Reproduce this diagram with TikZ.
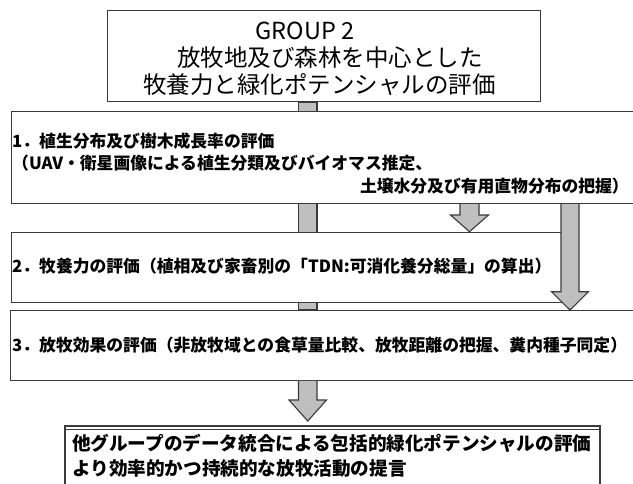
\documentclass[tikz,border=0pt]{standalone}
\usepackage{fontspec}
\setmainfont{Noto Sans CJK JP}
\usetikzlibrary{backgrounds}
\definecolor{lineC}{HTML}{3A3A3A}
\definecolor{barC}{HTML}{BFBFBF}
\begin{document}
\begin{tikzpicture}[x=1pt,y=-1pt,
  box/.style={draw=lineC, line width=1.3pt, fill=white, inner sep=0pt, anchor=north west},
  garrow/.style={draw=lineC, line width=1.1pt, fill=barC, line join=miter},
  ttxt/.style={inner sep=0pt, font=\fontsize{23.5}{26}\selectfont},
  txt/.style={inner sep=0pt, anchor=west, font=\fontsize{16.8}{20}\selectfont\bfseries},
  ftxt/.style={inner sep=0pt, anchor=west, font=\fontsize{18.6}{21}\selectfont\bfseries},
]
\useasboundingbox (0,0) rectangle (633,483);
\clip (0,0) rectangle (633,483);
% boxes
\node[box, minimum width=433.3pt, minimum height=90.7pt] (top) at (106.7,10) {};
\node[box, minimum width=640pt, minimum height=92pt] (b1) at (10.5,110.7) {};
\node[box, minimum width=550.5pt, minimum height=70pt] (b2) at (10.5,231.7) {};
\node[box, minimum width=640pt, minimum height=69.5pt] (b3) at (9.5,310) {};
\node[box, minimum width=535pt, minimum height=70pt] (fin) at (64.3,425.3) {};
\draw[lineC, line width=1pt] ([yshift=-4pt]fin.north west) -- ([yshift=-4pt]fin.north east);
% main vertical bar behind boxes
\begin{scope}[on background layer]
  \filldraw[garrow] (298.5,0 |- top.south) rectangle (317,0 |- b3.north);
\end{scope}
% middle arrow b1 -> b2
\draw[garrow] (460,0 |- b1.south) -- (460,215) -- (450.5,215) -- (469.5,0 |- b2.north)
  -- (488.5,215) -- (479,215) -- (479,0 |- b1.south);
% right arrow b1 -> b3
\draw[garrow] (561,0 |- b1.south) -- (561,291.7) -- (551.5,291.7) -- (570,0 |- b3.north)
  -- (588.5,291.7) -- (579,291.7) -- (579,0 |- b1.south);
% bottom arrow b3 -> fin
\draw[garrow] (298.5,0 |- b3.south) -- (298.5,400) -- (289,400) -- (307.75,421)
  -- (326.5,400) -- (317,400) -- (317,0 |- b3.south);
% texts
\node[ttxt] (t1) at (305,31) {GROUP 2};
\node[ttxt] (t2) at (330,58) {放牧地及び森林を中心とした};
\node[ttxt] (t3) at (319.5,85) {牧養力と緑化ポテンシャルの評価};
\node[txt] (l1) at (12,141) {1．植生分布及び樹木成長率の評価};
\node[txt] (l2) at (12,163) {（UAV・衛星画像による植生分類及びバイオマス推定、};
\node[txt, anchor=east] (l3) at (629,186) {土壌水分及び有用直物分布の把握）};
\node[txt] (l4) at (12,266) {2．牧養力の評価（植相及び家畜別の「TDN:可消化養分総量」の算出）};
\node[txt] (l5) at (12,345) {3．放牧効果の評価（非放牧域との食草量比較、放牧距離の把握、糞内種子同定）};
\node[ftxt] (f1) at (72,443) {他グループのデータ統合による包括的緑化ポテンシャルの評価};
\node[ftxt] (f2) at (72,468) {より効率的かつ持続的な放牧活動の提言};
\end{tikzpicture}
\end{document}
